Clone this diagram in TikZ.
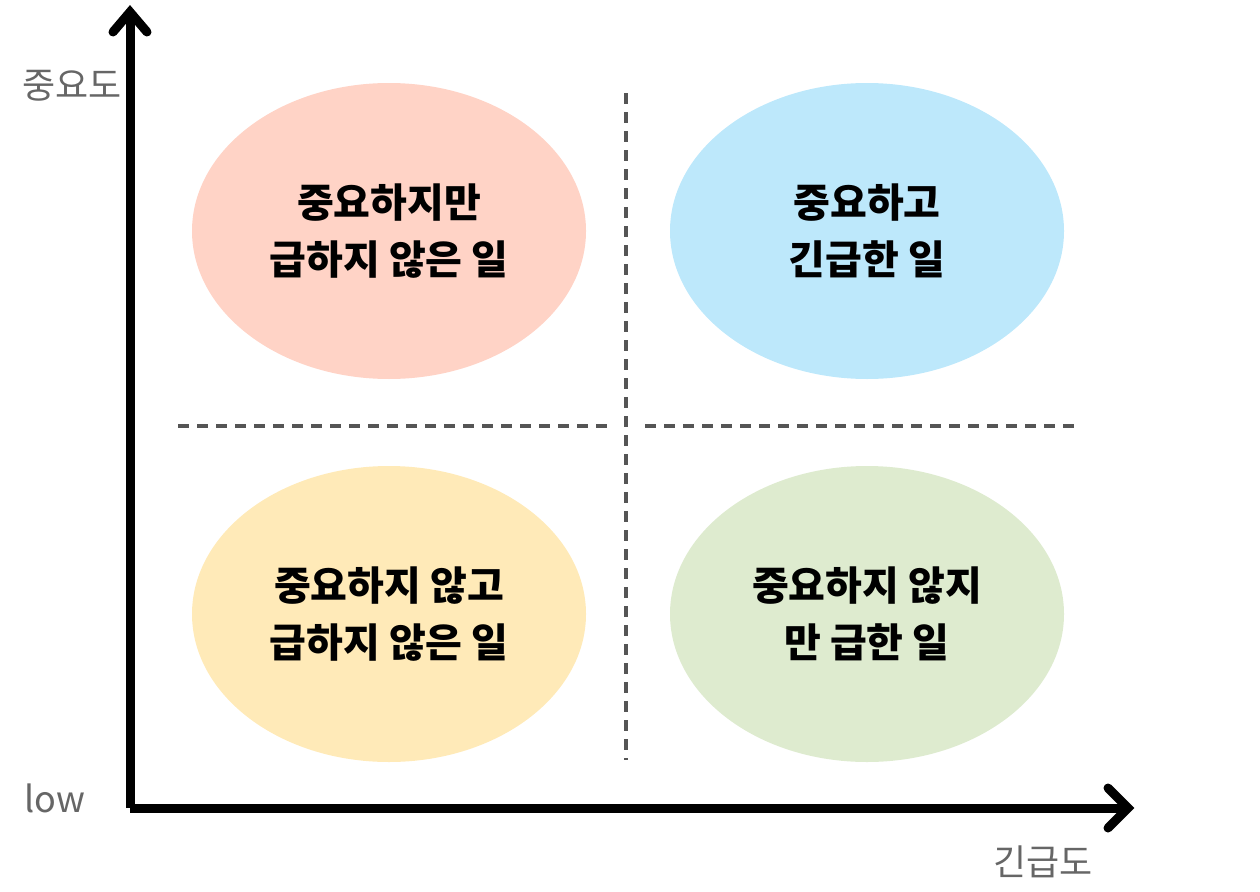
\documentclass[tikz,border=0pt]{standalone}
\usepackage{fontspec}
\newfontfamily\cjk{Noto Sans CJK KR}
\definecolor{cpink}{HTML}{FFD3C6}
\definecolor{cblue}{HTML}{BDE8FB}
\definecolor{cyel}{HTML}{FFEAB8}
\definecolor{cgreen}{HTML}{DEEBCF}
\definecolor{dgray}{HTML}{555555}
\definecolor{lgray}{HTML}{666666}
\tikzset{
  quad/.style={ellipse,minimum width=394pt,minimum height=296pt,inner sep=0pt,align=center,font=\cjk\bfseries\fontsize{40}{57}\selectfont},
  axis/.style={line width=9pt,black},
  chev/.style={line width=9pt,black,line cap=round,line join=miter},
  grid/.style={line width=4pt,dgray,dash pattern=on 11pt off 8pt},
  lab/.style={font=\cjk\fontsize{36}{40}\selectfont,text=lgray}
}
\usetikzlibrary{shapes.geometric}
\begin{document}
\begin{tikzpicture}[x=1pt,y=-1pt]
\useasboundingbox (0,0) rectangle (1260,891);
\node[quad,fill=cpink] (q1) at (389,231) {중요하지만\\급하지 않은 일};
\node[quad,fill=cblue] (q2) at (867,231) {중요하고\\긴급한 일};
\node[quad,fill=cyel] (q3) at (389,614) {중요하지 않고\\급하지 않은 일};
\node[quad,fill=cgreen] (q4) at (867,614) {중요하지 않지\\만 급한 일};
\coordinate (v1) at (626,93); \coordinate (v2) at (626,760);
\coordinate (h1) at (178,426); \coordinate (h2) at (610,426);
\coordinate (h3) at (645,426); \coordinate (h4) at (1075,426);
\draw[grid] (v1) -- (v2);
\draw[grid] (h1) -- (h2);
\draw[grid] (h3) -- (h4);
\coordinate (o) at (130,808);
\coordinate (ytop) at (130,12);
\coordinate (xend) at (1128,808);
\draw[axis] (o) -- (ytop);
\draw[axis] (o) -- (xend);
\draw[chev] (113,32) -- (ytop) -- (147,32);
\draw[chev] (1108,788) -- (xend) -- (1108,828);
\node[lab] (ly) at (72,86) {중요도};
\node[lab] (ll) at (55,798) {low};
\node[lab] (lx) at (1043,862) {긴급도};
\end{tikzpicture}
\end{document}
